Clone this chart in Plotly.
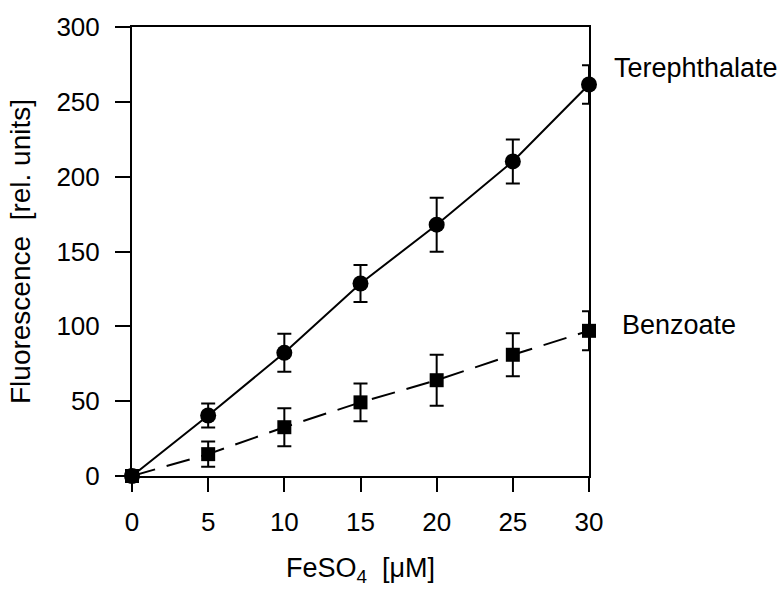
import plotly.graph_objects as go

feso4 = [0, 5, 10, 15, 20, 25, 30]
tere = [0, 40.4, 82.3, 128.6, 167.9, 210.2, 261.6]
tere_err = [0, 8.0, 12.7, 12.3, 18.0, 14.7, 12.8]
benz = [0, 14.6, 32.6, 49.2, 64.0, 81.0, 97.0]
benz_err = [0, 8.4, 12.7, 12.6, 17.0, 14.4, 13.0]
xticks = [0, 5, 10, 15, 20, 25, 30]
yticks = [0, 50, 100, 150, 200, 250, 300]

font = "Liberation Sans, Arial, sans-serif"

fig = go.Figure()
fig.add_trace(go.Scatter(
    x=feso4, y=benz, mode="lines+markers", cliponaxis=False,
    line=dict(color="black", width=2, dash="24px,12px"),
    marker=dict(symbol="square", size=14, color="black"),
    error_y=dict(type="data", array=benz_err, visible=True, color="black",
                 thickness=2, width=7),
))
fig.add_trace(go.Scatter(
    x=feso4, y=tere, mode="lines+markers", cliponaxis=False,
    line=dict(color="black", width=2),
    marker=dict(symbol="circle", size=16, color="black"),
    error_y=dict(type="data", array=tere_err, visible=True, color="black",
                 thickness=2, width=7),
))

fig.add_annotation(x=30, y=272.5, xref="x", yref="y", text="Terephthalate",
                   showarrow=False, xanchor="left", xshift=23,
                   font=dict(family=font, size=27, color="black"))
fig.add_annotation(x=30, y=101, xref="x", yref="y", text="Benzoate",
                   showarrow=False, xanchor="left", xshift=31,
                   font=dict(family=font, size=27, color="black"))

fig.update_layout(
    width=783, height=590,
    margin=dict(l=132, r=194, t=24, b=112),
    paper_bgcolor="white", plot_bgcolor="white",
    showlegend=False,
    font=dict(family=font, size=26, color="black"),
)
fig.update_xaxes(
    range=[0, 30], tickvals=xticks, ticks="outside", ticklen=14, tickwidth=2,
    tickcolor="black", showline=True, linecolor="black", linewidth=2,
    mirror=True, showgrid=False, zeroline=False, ticklabelstandoff=8,
    tickfont=dict(family=font, size=26),
    title=dict(text="FeSO<sub>4</sub>  [μM]", standoff=22,
               font=dict(family=font, size=27)),
)
fig.update_yaxes(
    range=[0, 300], tickvals=yticks, ticks="outside", ticklen=15, tickwidth=2,
    tickcolor="black", showline=True, linecolor="black", linewidth=2,
    mirror=True, showgrid=False, zeroline=False, ticklabelstandoff=10,
    tickfont=dict(family=font, size=26),
    title=dict(text="Fluorescence  [rel. units]", standoff=18,
               font=dict(family=font, size=28)),
)

fig.write_html("out.html")
